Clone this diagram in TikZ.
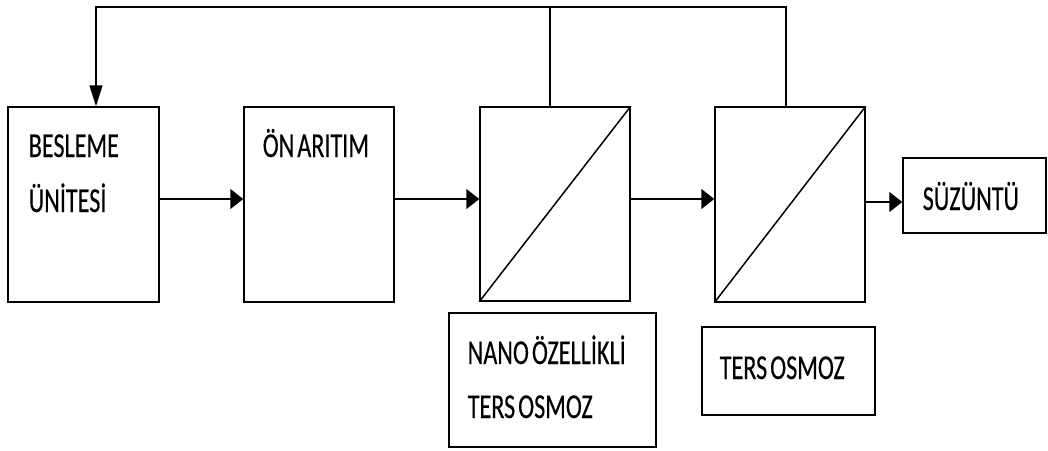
\documentclass[tikz,border=0pt]{standalone}
\usepackage{fontspec}
\newfontfamily\lblfont[FakeStretch=0.69,WordSpace=0.55,FakeBold=0.3]{Carlito}
\usetikzlibrary{arrows.meta}
\begin{document}
\begin{tikzpicture}[x=1pt,y=-1pt,line width=1.5pt,
  blk/.style={draw,rectangle,inner sep=0pt,minimum width=#1},
  lbl/.style={anchor=base west,inner sep=0pt,font=\lblfont\fontsize{35}{40}\selectfont},
  harr/.style={-{Triangle[length=13pt,width=20pt]}},
  varr/.style={-{Triangle[length=21pt,width=13pt]}}]
\useasboundingbox (0,0) rectangle (1048,450);
% process units
\node[blk=151pt,minimum height=195pt] (b1) at (83.5,204.5) {};
\node[blk=150pt,minimum height=195pt] (b2) at (319,204.5) {};
\node[blk=150pt,minimum height=194pt] (b3) at (555,204) {};
\node[blk=150pt,minimum height=195pt] (b4) at (790,204.5) {};
\node[blk=143pt,minimum height=75pt] (b5) at (974.5,195.5) {};
% membrane diagonals
\draw (b3.south west) -- (b3.north east);
\draw (b4.south west) -- (b4.north east);
% caption boxes below the membranes
\node[blk=207pt,minimum height=134pt] (c3) at (552.5,380) {};
\node[blk=173pt,minimum height=88pt] (c4) at (788.5,371) {};
% texts
\node[lbl] (t1a) at (28,157) {BESLEME};
\node[lbl] (t1b) at (28,212) {ÜNİTESİ};
\node[lbl] (t2) at (262,157) {ÖN ARITIM};
\node[lbl] (t5) at (922,210) {SÜZÜNTÜ};
\node[lbl] (t3a) at (467,364) {NANO ÖZELLİKLİ};
\node[lbl] (t3b) at (467,418) {TERS OSMOZ};
\node[lbl] (t4) at (719,379) {TERS OSMOZ};
% main flow
\draw[harr] (b1.east |- 0,199) -- (b2.west |- 0,199);
\draw[harr] (b2.east |- 0,199) -- (b3.west |- 0,199);
\draw[harr] (b3.east |- 0,199) -- (b4.west |- 0,199);
\draw[harr] (b4.east |- 0,202) -- (b5.west |- 0,202);
% recycle line
\coordinate (r1) at (96,7);
\coordinate (r3) at (550,7);
\coordinate (r4) at (786,7);
\draw (b3.north -| r3) -- (r3);
\draw[varr] (b4.north -| r4) -- (r4) -- (r1) -- (b1.north -| r1);
\end{tikzpicture}
\end{document}
